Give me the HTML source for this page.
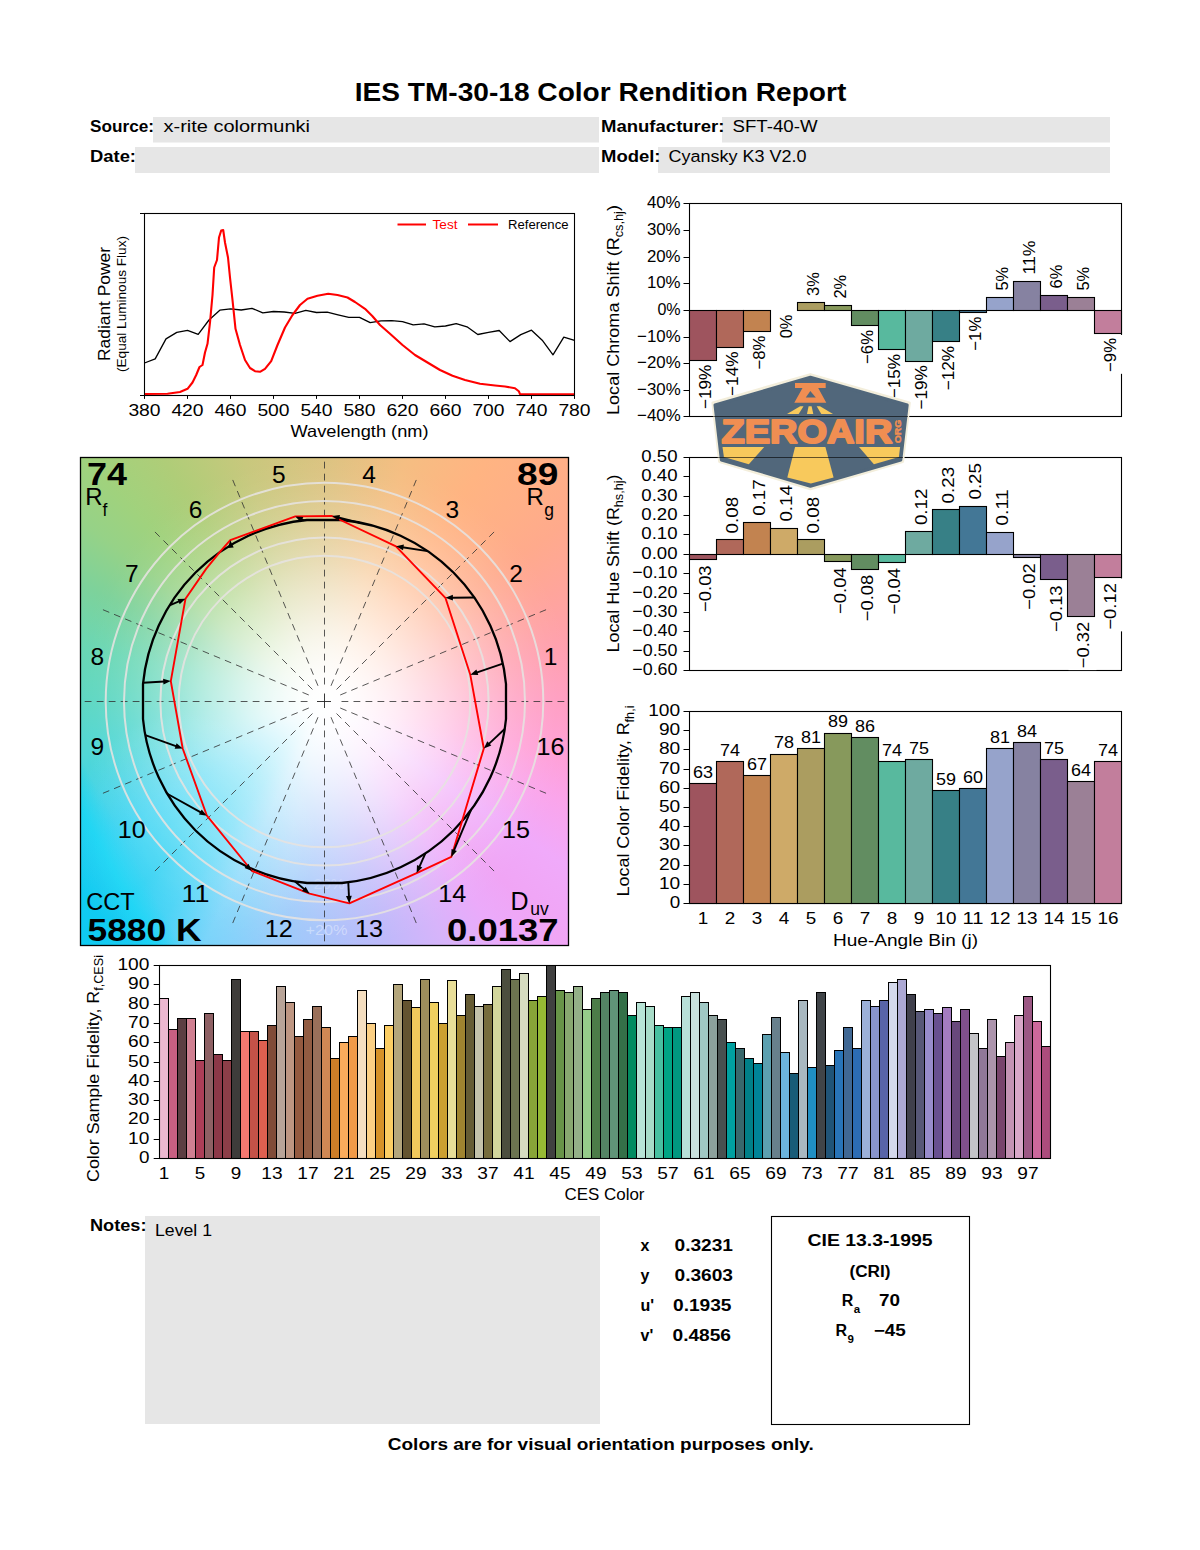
<!DOCTYPE html>
<html><head><meta charset="utf-8"><title>IES TM-30-18 Color Rendition Report</title>
<style>
html,body{margin:0;padding:0;background:#fff;}
#page{position:relative;width:1200px;height:1550px;overflow:hidden;background:#fff;font-family:'Liberation Sans', sans-serif;}
#cvgbg{position:absolute;left:80.5px;top:457.5px;width:488.0px;height:488.0px;background:radial-gradient(circle 125px at 112px 376px, rgba(255,255,255,0.30), rgba(255,255,255,0.22) 40%, rgba(255,255,255,0)),linear-gradient(241.8deg, rgba(0,214,246,0) 86.5%, rgba(0,214,246,0.6) 90.2%, rgba(10,202,241,0.55) 93%, rgba(10,202,241,0.55) 100%),radial-gradient(circle at 50% 50%, rgba(255,255,255,1.000) 0.0px, rgba(255,255,255,0.993) 12.8px, rgba(255,255,255,0.972) 25.5px, rgba(255,255,255,0.939) 38.2px, rgba(255,255,255,0.896) 51.0px, rgba(255,255,255,0.844) 63.8px, rgba(255,255,255,0.784) 76.5px, rgba(255,255,255,0.718) 89.2px, rgba(255,255,255,0.648) 102.0px, rgba(255,255,255,0.575) 114.8px, rgba(255,255,255,0.500) 127.5px, rgba(255,255,255,0.425) 140.2px, rgba(255,255,255,0.352) 153.0px, rgba(255,255,255,0.282) 165.8px, rgba(255,255,255,0.216) 178.5px, rgba(255,255,255,0.156) 191.2px, rgba(255,255,255,0.104) 204.0px, rgba(255,255,255,0.061) 216.8px, rgba(255,255,255,0.028) 229.5px, rgba(255,255,255,0.007) 242.2px, rgba(255,255,255,0.000) 255.0px),conic-gradient(from 0deg at 50% 50%, rgb(220,195,129) 0.0deg, rgb(245,190,130) 18.4deg, rgb(255,180,130) 33.7deg, rgb(255,175,135) 45.0deg, rgb(255,170,140) 53.4deg, rgb(255,165,155) 64.2deg, rgb(255,160,175) 77.3deg, rgb(255,159,195) 90.0deg, rgb(255,160,215) 102.7deg, rgb(250,165,235) 112.8deg, rgb(240,170,250) 124.1deg, rgb(240,165,245) 135.0deg, rgb(235,170,250) 143.1deg, rgb(215,180,250) 153.4deg, rgb(190,185,250) 166.0deg, rgb(170,195,250) 180.0deg, rgb(150,205,250) 194.0deg, rgb(115,210,250) 206.6deg, rgb(50,206,245) 216.9deg, rgb(22,203,241) 225.0deg, rgb(24,204,241) 231.3deg, rgb(35,206,240) 238.5deg, rgb(60,210,230) 247.2deg, rgb(80,215,215) 257.3deg, rgb(94,215,195) 270.0deg, rgb(105,215,180) 282.7deg, rgb(125,210,155) 295.8deg, rgb(150,210,135) 306.6deg, rgb(160,210,125) 315.0deg, rgb(175,205,120) 326.3deg, rgb(200,200,125) 341.6deg, rgb(220,195,129) 360deg);}
svg{position:absolute;left:0;top:0;}
svg text{font-family:'Liberation Sans', sans-serif;}
</style></head><body>
<div id="page">
<div id="cvgbg"></div>
<svg width="1200" height="1550" viewBox="0 0 1200 1550">
<!-- header -->
<text x="600.5" y="101.0" font-size="26.6" text-anchor="middle" font-weight="bold" textLength="491.5" lengthAdjust="spacingAndGlyphs">IES TM-30-18 Color Rendition Report</text>
<rect x="153.00" y="117.00" width="446.00" height="25.50" fill="#e6e6e6"/>
<rect x="135.00" y="147.00" width="464.00" height="26.00" fill="#e6e6e6"/>
<rect x="722.00" y="117.00" width="388.00" height="25.50" fill="#e6e6e6"/>
<rect x="658.00" y="147.00" width="452.00" height="26.00" fill="#e6e6e6"/>
<text x="90.0" y="131.5" font-size="16.3" text-anchor="start" font-weight="bold" textLength="64.0" lengthAdjust="spacingAndGlyphs">Source:</text>
<text x="163.5" y="131.5" font-size="16.3" text-anchor="start" textLength="146.5" lengthAdjust="spacingAndGlyphs">x-rite colormunki</text>
<text x="90.0" y="161.5" font-size="16.3" text-anchor="start" font-weight="bold" textLength="46.0" lengthAdjust="spacingAndGlyphs">Date:</text>
<text x="601.0" y="131.5" font-size="16.3" text-anchor="start" font-weight="bold" textLength="123.5" lengthAdjust="spacingAndGlyphs">Manufacturer:</text>
<text x="732.5" y="131.5" font-size="16.3" text-anchor="start" textLength="85.0" lengthAdjust="spacingAndGlyphs">SFT-40-W</text>
<text x="601.0" y="161.5" font-size="16.3" text-anchor="start" font-weight="bold" textLength="59.5" lengthAdjust="spacingAndGlyphs">Model:</text>
<text x="668.5" y="161.5" font-size="16.3" text-anchor="start" textLength="138.0" lengthAdjust="spacingAndGlyphs">Cyansky K3 V2.0</text>
<!-- spectrum -->
<polyline points="144.5,363.0 155.2,358.9 166.0,338.9 176.8,332.4 187.5,330.4 198.2,334.3 209.0,320.0 219.8,310.2 230.5,308.8 241.2,310.0 252.0,308.3 262.8,312.9 273.5,311.5 284.2,312.0 295.0,313.3 305.8,310.4 316.5,312.5 327.2,312.2 338.0,314.9 348.8,317.4 359.5,317.4 370.2,322.7 381.0,320.8 391.8,320.6 402.5,321.7 413.2,324.9 424.0,323.9 434.8,326.8 445.5,326.0 456.2,323.6 467.0,326.8 477.8,334.5 488.5,332.4 499.2,330.5 510.0,341.6 520.8,334.6 531.5,330.2 542.2,340.2 553.0,354.8 563.8,337.2 574.5,340.3" fill="none" stroke="#000" stroke-width="1.3" stroke-linejoin="round"/>
<polyline points="144.5,394.0 167.5,393.8 180.0,392.0 187.5,388.8 192.5,382.5 196.2,375.0 199.5,367.0 202.5,365.0 205.0,352.5 207.5,343.8 210.0,322.5 212.5,295.0 214.2,267.5 217.0,260.0 219.0,237.5 221.2,230.5 223.2,230.0 225.0,242.5 228.0,257.5 230.0,277.5 232.5,300.0 235.5,328.8 240.0,345.0 245.0,360.0 250.0,368.0 255.0,371.2 260.0,371.8 265.0,368.8 271.2,361.2 277.5,345.0 285.0,327.5 292.5,315.0 300.0,305.0 307.5,298.8 317.5,295.8 328.2,293.8 337.5,295.0 347.5,297.5 355.0,302.0 365.0,308.8 372.5,316.2 380.0,325.0 390.0,333.8 402.5,345.0 415.0,355.0 427.5,362.5 440.0,370.0 452.5,375.8 465.0,380.0 480.0,383.8 495.0,385.5 505.0,386.5 515.0,388.2 518.8,391.2 520.0,394.2 574.5,394.2" fill="none" stroke="#f00" stroke-width="2.1" stroke-linejoin="round"/>
<rect x="144.50" y="213.50" width="430.00" height="182.00" fill="none" stroke="#000" stroke-width="1.1"/>
<line x1="144.50" y1="395.50" x2="144.50" y2="398.90" stroke="#000" stroke-width="1.0"/>
<text x="144.5" y="416.0" font-size="16.8" text-anchor="middle" textLength="32.2" lengthAdjust="spacingAndGlyphs">380</text>
<line x1="187.50" y1="395.50" x2="187.50" y2="398.90" stroke="#000" stroke-width="1.0"/>
<text x="187.5" y="416.0" font-size="16.8" text-anchor="middle" textLength="32.2" lengthAdjust="spacingAndGlyphs">420</text>
<line x1="230.50" y1="395.50" x2="230.50" y2="398.90" stroke="#000" stroke-width="1.0"/>
<text x="230.5" y="416.0" font-size="16.8" text-anchor="middle" textLength="32.2" lengthAdjust="spacingAndGlyphs">460</text>
<line x1="273.50" y1="395.50" x2="273.50" y2="398.90" stroke="#000" stroke-width="1.0"/>
<text x="273.5" y="416.0" font-size="16.8" text-anchor="middle" textLength="32.2" lengthAdjust="spacingAndGlyphs">500</text>
<line x1="316.50" y1="395.50" x2="316.50" y2="398.90" stroke="#000" stroke-width="1.0"/>
<text x="316.5" y="416.0" font-size="16.8" text-anchor="middle" textLength="32.2" lengthAdjust="spacingAndGlyphs">540</text>
<line x1="359.50" y1="395.50" x2="359.50" y2="398.90" stroke="#000" stroke-width="1.0"/>
<text x="359.5" y="416.0" font-size="16.8" text-anchor="middle" textLength="32.2" lengthAdjust="spacingAndGlyphs">580</text>
<line x1="402.50" y1="395.50" x2="402.50" y2="398.90" stroke="#000" stroke-width="1.0"/>
<text x="402.5" y="416.0" font-size="16.8" text-anchor="middle" textLength="32.2" lengthAdjust="spacingAndGlyphs">620</text>
<line x1="445.50" y1="395.50" x2="445.50" y2="398.90" stroke="#000" stroke-width="1.0"/>
<text x="445.5" y="416.0" font-size="16.8" text-anchor="middle" textLength="32.2" lengthAdjust="spacingAndGlyphs">660</text>
<line x1="488.50" y1="395.50" x2="488.50" y2="398.90" stroke="#000" stroke-width="1.0"/>
<text x="488.5" y="416.0" font-size="16.8" text-anchor="middle" textLength="32.2" lengthAdjust="spacingAndGlyphs">700</text>
<line x1="531.50" y1="395.50" x2="531.50" y2="398.90" stroke="#000" stroke-width="1.0"/>
<text x="531.5" y="416.0" font-size="16.8" text-anchor="middle" textLength="32.2" lengthAdjust="spacingAndGlyphs">740</text>
<line x1="574.50" y1="395.50" x2="574.50" y2="398.90" stroke="#000" stroke-width="1.0"/>
<text x="574.5" y="416.0" font-size="16.8" text-anchor="middle" textLength="32.2" lengthAdjust="spacingAndGlyphs">780</text>
<line x1="140.00" y1="213.50" x2="144.50" y2="213.50" stroke="#000" stroke-width="1.0"/>
<line x1="140.00" y1="395.50" x2="144.50" y2="395.50" stroke="#000" stroke-width="1.0"/>
<text x="359.5" y="437.0" font-size="16.5" text-anchor="middle" textLength="138.0" lengthAdjust="spacingAndGlyphs">Wavelength (nm)</text>
<text x="110.0" y="304.0" font-size="16.5" text-anchor="middle" textLength="114.0" lengthAdjust="spacingAndGlyphs" transform="rotate(-90 110.0 304.0)">Radiant Power</text>
<text x="126.0" y="304.0" font-size="12.5" text-anchor="middle" textLength="136.0" lengthAdjust="spacingAndGlyphs" transform="rotate(-90 126.0 304.0)">(Equal Luminous Flux)</text>
<line x1="397.50" y1="224.50" x2="426.00" y2="224.50" stroke="#f00" stroke-width="2.0"/>
<text x="432.5" y="229.0" font-size="12.5" text-anchor="start" textLength="25.0" lengthAdjust="spacingAndGlyphs" fill="#f00">Test</text>
<line x1="468.00" y1="224.50" x2="498.00" y2="224.50" stroke="#f00" stroke-width="2.0"/>
<text x="508.0" y="229.0" font-size="12.5" text-anchor="start" textLength="60.5" lengthAdjust="spacingAndGlyphs">Reference</text>
<!-- bin charts -->
<rect x="689.50" y="203.50" width="432.00" height="213.00" fill="none" stroke="#000" stroke-width="1.1"/>
<rect x="690.50" y="361.56" width="28.00" height="49.20" fill="#fff"/>
<rect x="717.50" y="348.51" width="28.00" height="49.20" fill="#fff"/>
<rect x="744.50" y="332.53" width="28.00" height="38.90" fill="#fff"/>
<rect x="771.50" y="311.50" width="28.00" height="28.60" fill="#fff"/>
<rect x="798.50" y="270.91" width="28.00" height="30.60" fill="#fff"/>
<rect x="825.50" y="273.57" width="28.00" height="30.60" fill="#fff"/>
<rect x="852.50" y="326.94" width="28.00" height="38.90" fill="#fff"/>
<rect x="879.50" y="350.90" width="28.00" height="49.20" fill="#fff"/>
<rect x="906.50" y="362.09" width="28.00" height="49.20" fill="#fff"/>
<rect x="933.50" y="342.92" width="28.00" height="49.20" fill="#fff"/>
<rect x="960.50" y="313.63" width="28.00" height="38.90" fill="#fff"/>
<rect x="987.50" y="265.59" width="28.00" height="30.60" fill="#fff"/>
<rect x="1014.50" y="239.31" width="28.00" height="40.90" fill="#fff"/>
<rect x="1041.50" y="263.46" width="28.00" height="30.60" fill="#fff"/>
<rect x="1068.50" y="265.59" width="28.00" height="30.60" fill="#fff"/>
<rect x="1095.50" y="334.93" width="28.00" height="38.90" fill="#fff"/>
<rect x="689.50" y="310.50" width="27.00" height="50.00" fill="#9e545e" stroke="#000" stroke-width="1.1"/>
<rect x="716.50" y="310.50" width="27.00" height="37.00" fill="#b0685a" stroke="#000" stroke-width="1.1"/>
<rect x="743.50" y="310.50" width="27.00" height="21.00" fill="#c28350" stroke="#000" stroke-width="1.1"/>
<rect x="797.50" y="302.50" width="27.00" height="8.00" fill="#ab9d60" stroke="#000" stroke-width="1.1"/>
<rect x="824.50" y="305.50" width="27.00" height="5.00" fill="#87995c" stroke="#000" stroke-width="1.1"/>
<rect x="851.50" y="310.50" width="27.00" height="15.00" fill="#628d61" stroke="#000" stroke-width="1.1"/>
<rect x="878.50" y="310.50" width="27.00" height="39.00" fill="#58b99e" stroke="#000" stroke-width="1.1"/>
<rect x="905.50" y="310.50" width="27.00" height="51.00" fill="#6eaaa0" stroke="#000" stroke-width="1.1"/>
<rect x="932.50" y="310.50" width="27.00" height="31.00" fill="#378086" stroke="#000" stroke-width="1.1"/>
<rect x="959.50" y="310.50" width="27.00" height="2.00" fill="#437796" stroke="#000" stroke-width="1.1"/>
<rect x="986.50" y="297.50" width="27.00" height="13.00" fill="#96a3cb" stroke="#000" stroke-width="1.1"/>
<rect x="1013.50" y="281.50" width="27.00" height="29.00" fill="#8682a1" stroke="#000" stroke-width="1.1"/>
<rect x="1040.50" y="295.50" width="27.00" height="15.00" fill="#7a5e8c" stroke="#000" stroke-width="1.1"/>
<rect x="1067.50" y="297.50" width="27.00" height="13.00" fill="#9b8096" stroke="#000" stroke-width="1.1"/>
<rect x="1094.50" y="310.50" width="27.00" height="23.00" fill="#c27e9c" stroke="#000" stroke-width="1.1"/>
<text x="711.2" y="409.0" font-size="16.8" textLength="44.4" lengthAdjust="spacingAndGlyphs" transform="rotate(-90 711.2 409.0)">−19%</text>
<text x="738.2" y="395.9" font-size="16.8" textLength="44.4" lengthAdjust="spacingAndGlyphs" transform="rotate(-90 738.2 395.9)">−14%</text>
<text x="765.2" y="369.6" font-size="16.8" textLength="34.1" lengthAdjust="spacingAndGlyphs" transform="rotate(-90 765.2 369.6)">−8%</text>
<text x="792.2" y="338.3" font-size="16.8" textLength="23.8" lengthAdjust="spacingAndGlyphs" transform="rotate(-90 792.2 338.3)">0%</text>
<text x="819.2" y="295.9" font-size="16.8" textLength="23.8" lengthAdjust="spacingAndGlyphs" transform="rotate(-90 819.2 295.9)">3%</text>
<text x="846.2" y="298.6" font-size="16.8" textLength="23.8" lengthAdjust="spacingAndGlyphs" transform="rotate(-90 846.2 298.6)">2%</text>
<text x="873.2" y="364.0" font-size="16.8" textLength="34.1" lengthAdjust="spacingAndGlyphs" transform="rotate(-90 873.2 364.0)">−6%</text>
<text x="900.2" y="398.3" font-size="16.8" textLength="44.4" lengthAdjust="spacingAndGlyphs" transform="rotate(-90 900.2 398.3)">−15%</text>
<text x="927.2" y="409.5" font-size="16.8" textLength="44.4" lengthAdjust="spacingAndGlyphs" transform="rotate(-90 927.2 409.5)">−19%</text>
<text x="954.2" y="390.3" font-size="16.8" textLength="44.4" lengthAdjust="spacingAndGlyphs" transform="rotate(-90 954.2 390.3)">−12%</text>
<text x="981.2" y="350.7" font-size="16.8" textLength="34.1" lengthAdjust="spacingAndGlyphs" transform="rotate(-90 981.2 350.7)">−1%</text>
<text x="1008.2" y="290.6" font-size="16.8" textLength="23.8" lengthAdjust="spacingAndGlyphs" transform="rotate(-90 1008.2 290.6)">5%</text>
<text x="1035.2" y="274.6" font-size="16.8" textLength="34.1" lengthAdjust="spacingAndGlyphs" transform="rotate(-90 1035.2 274.6)">11%</text>
<text x="1062.2" y="288.5" font-size="16.8" textLength="23.8" lengthAdjust="spacingAndGlyphs" transform="rotate(-90 1062.2 288.5)">6%</text>
<text x="1089.2" y="290.6" font-size="16.8" textLength="23.8" lengthAdjust="spacingAndGlyphs" transform="rotate(-90 1089.2 290.6)">5%</text>
<text x="1116.2" y="372.0" font-size="16.8" textLength="34.1" lengthAdjust="spacingAndGlyphs" transform="rotate(-90 1116.2 372.0)">−9%</text>
<line x1="683.50" y1="203.50" x2="689.50" y2="203.50" stroke="#000" stroke-width="1.0"/>
<text x="680.6" y="207.9" font-size="16.8" text-anchor="end" textLength="33.7" lengthAdjust="spacingAndGlyphs">40%</text>
<line x1="683.50" y1="230.50" x2="689.50" y2="230.50" stroke="#000" stroke-width="1.0"/>
<text x="680.6" y="234.9" font-size="16.8" text-anchor="end" textLength="33.7" lengthAdjust="spacingAndGlyphs">30%</text>
<line x1="683.50" y1="257.50" x2="689.50" y2="257.50" stroke="#000" stroke-width="1.0"/>
<text x="680.6" y="261.9" font-size="16.8" text-anchor="end" textLength="33.7" lengthAdjust="spacingAndGlyphs">20%</text>
<line x1="683.50" y1="283.50" x2="689.50" y2="283.50" stroke="#000" stroke-width="1.0"/>
<text x="680.6" y="287.9" font-size="16.8" text-anchor="end" textLength="33.7" lengthAdjust="spacingAndGlyphs">10%</text>
<line x1="683.50" y1="310.50" x2="689.50" y2="310.50" stroke="#000" stroke-width="1.0"/>
<text x="680.6" y="314.9" font-size="16.8" text-anchor="end" textLength="23.2" lengthAdjust="spacingAndGlyphs">0%</text>
<line x1="683.50" y1="337.50" x2="689.50" y2="337.50" stroke="#000" stroke-width="1.0"/>
<text x="680.6" y="341.9" font-size="16.8" text-anchor="end" textLength="43.5" lengthAdjust="spacingAndGlyphs">−10%</text>
<line x1="683.50" y1="363.50" x2="689.50" y2="363.50" stroke="#000" stroke-width="1.0"/>
<text x="680.6" y="367.9" font-size="16.8" text-anchor="end" textLength="43.5" lengthAdjust="spacingAndGlyphs">−20%</text>
<line x1="683.50" y1="390.50" x2="689.50" y2="390.50" stroke="#000" stroke-width="1.0"/>
<text x="680.6" y="394.9" font-size="16.8" text-anchor="end" textLength="43.5" lengthAdjust="spacingAndGlyphs">−30%</text>
<line x1="683.50" y1="416.50" x2="689.50" y2="416.50" stroke="#000" stroke-width="1.0"/>
<text x="680.6" y="420.9" font-size="16.8" text-anchor="end" textLength="43.5" lengthAdjust="spacingAndGlyphs">−40%</text>
<rect x="689.50" y="457.50" width="432.00" height="213.00" fill="none" stroke="#000" stroke-width="1.1"/>
<rect x="690.50" y="560.75" width="28.00" height="53.00" fill="#fff"/>
<rect x="717.50" y="495.70" width="28.00" height="43.30" fill="#fff"/>
<rect x="744.50" y="478.07" width="28.00" height="43.30" fill="#fff"/>
<rect x="771.50" y="483.88" width="28.00" height="43.30" fill="#fff"/>
<rect x="798.50" y="495.70" width="28.00" height="43.30" fill="#fff"/>
<rect x="825.50" y="562.68" width="28.00" height="53.00" fill="#fff"/>
<rect x="852.50" y="570.04" width="28.00" height="53.00" fill="#fff"/>
<rect x="879.50" y="563.26" width="28.00" height="53.00" fill="#fff"/>
<rect x="906.50" y="487.37" width="28.00" height="43.30" fill="#fff"/>
<rect x="933.50" y="465.68" width="28.00" height="43.30" fill="#fff"/>
<rect x="960.50" y="461.81" width="28.00" height="43.30" fill="#fff"/>
<rect x="987.50" y="488.14" width="28.00" height="43.30" fill="#fff"/>
<rect x="1014.50" y="558.62" width="28.00" height="53.00" fill="#fff"/>
<rect x="1041.50" y="580.69" width="28.00" height="53.00" fill="#fff"/>
<rect x="1068.50" y="617.09" width="28.00" height="53.00" fill="#fff"/>
<rect x="1095.50" y="578.37" width="28.00" height="53.00" fill="#fff"/>
<rect x="689.50" y="554.50" width="27.00" height="5.00" fill="#9e545e" stroke="#000" stroke-width="1.1"/>
<rect x="716.50" y="539.50" width="27.00" height="15.00" fill="#b0685a" stroke="#000" stroke-width="1.1"/>
<rect x="743.50" y="522.50" width="27.00" height="32.00" fill="#c28350" stroke="#000" stroke-width="1.1"/>
<rect x="770.50" y="528.50" width="27.00" height="26.00" fill="#ceaa68" stroke="#000" stroke-width="1.1"/>
<rect x="797.50" y="539.50" width="27.00" height="15.00" fill="#ab9d60" stroke="#000" stroke-width="1.1"/>
<rect x="824.50" y="554.50" width="27.00" height="7.00" fill="#87995c" stroke="#000" stroke-width="1.1"/>
<rect x="851.50" y="554.50" width="27.00" height="15.00" fill="#628d61" stroke="#000" stroke-width="1.1"/>
<rect x="878.50" y="554.50" width="27.00" height="8.00" fill="#58b99e" stroke="#000" stroke-width="1.1"/>
<rect x="905.50" y="531.50" width="27.00" height="23.00" fill="#6eaaa0" stroke="#000" stroke-width="1.1"/>
<rect x="932.50" y="509.50" width="27.00" height="45.00" fill="#378086" stroke="#000" stroke-width="1.1"/>
<rect x="959.50" y="506.50" width="27.00" height="48.00" fill="#437796" stroke="#000" stroke-width="1.1"/>
<rect x="986.50" y="532.50" width="27.00" height="22.00" fill="#96a3cb" stroke="#000" stroke-width="1.1"/>
<rect x="1013.50" y="554.50" width="27.00" height="3.00" fill="#8682a1" stroke="#000" stroke-width="1.1"/>
<rect x="1040.50" y="554.50" width="27.00" height="25.00" fill="#7a5e8c" stroke="#000" stroke-width="1.1"/>
<rect x="1067.50" y="554.50" width="27.00" height="62.00" fill="#9b8096" stroke="#000" stroke-width="1.1"/>
<rect x="1094.50" y="554.50" width="27.00" height="23.00" fill="#c27e9c" stroke="#000" stroke-width="1.1"/>
<text x="711.2" y="611.9" font-size="16.8" textLength="46.5" lengthAdjust="spacingAndGlyphs" transform="rotate(-90 711.2 611.9)">−0.03</text>
<text x="738.2" y="533.4" font-size="16.8" textLength="36.5" lengthAdjust="spacingAndGlyphs" transform="rotate(-90 738.2 533.4)">0.08</text>
<text x="765.2" y="515.8" font-size="16.8" textLength="36.5" lengthAdjust="spacingAndGlyphs" transform="rotate(-90 765.2 515.8)">0.17</text>
<text x="792.2" y="521.6" font-size="16.8" textLength="36.5" lengthAdjust="spacingAndGlyphs" transform="rotate(-90 792.2 521.6)">0.14</text>
<text x="819.2" y="533.4" font-size="16.8" textLength="36.5" lengthAdjust="spacingAndGlyphs" transform="rotate(-90 819.2 533.4)">0.08</text>
<text x="846.2" y="613.9" font-size="16.8" textLength="46.5" lengthAdjust="spacingAndGlyphs" transform="rotate(-90 846.2 613.9)">−0.04</text>
<text x="873.2" y="621.2" font-size="16.8" textLength="46.5" lengthAdjust="spacingAndGlyphs" transform="rotate(-90 873.2 621.2)">−0.08</text>
<text x="900.2" y="614.5" font-size="16.8" textLength="46.5" lengthAdjust="spacingAndGlyphs" transform="rotate(-90 900.2 614.5)">−0.04</text>
<text x="927.2" y="525.1" font-size="16.8" textLength="36.5" lengthAdjust="spacingAndGlyphs" transform="rotate(-90 927.2 525.1)">0.12</text>
<text x="954.2" y="503.4" font-size="16.8" textLength="36.5" lengthAdjust="spacingAndGlyphs" transform="rotate(-90 954.2 503.4)">0.23</text>
<text x="981.2" y="499.5" font-size="16.8" textLength="36.5" lengthAdjust="spacingAndGlyphs" transform="rotate(-90 981.2 499.5)">0.25</text>
<text x="1008.2" y="525.8" font-size="16.8" textLength="36.5" lengthAdjust="spacingAndGlyphs" transform="rotate(-90 1008.2 525.8)">0.11</text>
<text x="1035.2" y="609.8" font-size="16.8" textLength="46.5" lengthAdjust="spacingAndGlyphs" transform="rotate(-90 1035.2 609.8)">−0.02</text>
<text x="1062.2" y="631.9" font-size="16.8" textLength="46.5" lengthAdjust="spacingAndGlyphs" transform="rotate(-90 1062.2 631.9)">−0.13</text>
<text x="1089.2" y="668.3" font-size="16.8" textLength="46.5" lengthAdjust="spacingAndGlyphs" transform="rotate(-90 1089.2 668.3)">−0.32</text>
<text x="1116.2" y="629.6" font-size="16.8" textLength="46.5" lengthAdjust="spacingAndGlyphs" transform="rotate(-90 1116.2 629.6)">−0.12</text>
<line x1="683.50" y1="457.50" x2="689.50" y2="457.50" stroke="#000" stroke-width="1.0"/>
<text x="677.5" y="461.9" font-size="16.8" text-anchor="end" textLength="36.2" lengthAdjust="spacingAndGlyphs">0.50</text>
<line x1="683.50" y1="476.50" x2="689.50" y2="476.50" stroke="#000" stroke-width="1.0"/>
<text x="677.5" y="480.9" font-size="16.8" text-anchor="end" textLength="36.2" lengthAdjust="spacingAndGlyphs">0.40</text>
<line x1="683.50" y1="496.50" x2="689.50" y2="496.50" stroke="#000" stroke-width="1.0"/>
<text x="677.5" y="500.9" font-size="16.8" text-anchor="end" textLength="36.2" lengthAdjust="spacingAndGlyphs">0.30</text>
<line x1="683.50" y1="515.50" x2="689.50" y2="515.50" stroke="#000" stroke-width="1.0"/>
<text x="677.5" y="519.9" font-size="16.8" text-anchor="end" textLength="36.2" lengthAdjust="spacingAndGlyphs">0.20</text>
<line x1="683.50" y1="534.50" x2="689.50" y2="534.50" stroke="#000" stroke-width="1.0"/>
<text x="677.5" y="538.9" font-size="16.8" text-anchor="end" textLength="36.2" lengthAdjust="spacingAndGlyphs">0.10</text>
<line x1="683.50" y1="554.50" x2="689.50" y2="554.50" stroke="#000" stroke-width="1.0"/>
<text x="677.5" y="558.9" font-size="16.8" text-anchor="end" textLength="36.2" lengthAdjust="spacingAndGlyphs">0.00</text>
<line x1="683.50" y1="573.50" x2="689.50" y2="573.50" stroke="#000" stroke-width="1.0"/>
<text x="677.5" y="577.9" font-size="16.8" text-anchor="end" textLength="45.2" lengthAdjust="spacingAndGlyphs">−0.10</text>
<line x1="683.50" y1="593.50" x2="689.50" y2="593.50" stroke="#000" stroke-width="1.0"/>
<text x="677.5" y="597.9" font-size="16.8" text-anchor="end" textLength="45.2" lengthAdjust="spacingAndGlyphs">−0.20</text>
<line x1="683.50" y1="612.50" x2="689.50" y2="612.50" stroke="#000" stroke-width="1.0"/>
<text x="677.5" y="616.9" font-size="16.8" text-anchor="end" textLength="45.2" lengthAdjust="spacingAndGlyphs">−0.30</text>
<line x1="683.50" y1="631.50" x2="689.50" y2="631.50" stroke="#000" stroke-width="1.0"/>
<text x="677.5" y="635.9" font-size="16.8" text-anchor="end" textLength="45.2" lengthAdjust="spacingAndGlyphs">−0.40</text>
<line x1="683.50" y1="651.50" x2="689.50" y2="651.50" stroke="#000" stroke-width="1.0"/>
<text x="677.5" y="655.9" font-size="16.8" text-anchor="end" textLength="45.2" lengthAdjust="spacingAndGlyphs">−0.50</text>
<line x1="683.50" y1="670.50" x2="689.50" y2="670.50" stroke="#000" stroke-width="1.0"/>
<text x="677.5" y="674.9" font-size="16.8" text-anchor="end" textLength="45.2" lengthAdjust="spacingAndGlyphs">−0.60</text>
<rect x="689.50" y="711.50" width="432.00" height="192.00" fill="none" stroke="#000" stroke-width="1.1"/>
<rect x="689.50" y="783.50" width="27.00" height="120.00" fill="#9e545e" stroke="#000" stroke-width="1.1"/>
<text x="703.0" y="777.6" font-size="16.8" text-anchor="middle" textLength="20.0" lengthAdjust="spacingAndGlyphs">63</text>
<text x="703.0" y="924.3" font-size="16.8" text-anchor="middle" textLength="10.5" lengthAdjust="spacingAndGlyphs">1</text>
<rect x="716.50" y="761.50" width="27.00" height="142.00" fill="#b0685a" stroke="#000" stroke-width="1.1"/>
<text x="730.0" y="755.7" font-size="16.8" text-anchor="middle" textLength="20.0" lengthAdjust="spacingAndGlyphs">74</text>
<text x="730.0" y="924.3" font-size="16.8" text-anchor="middle" textLength="10.5" lengthAdjust="spacingAndGlyphs">2</text>
<rect x="743.50" y="775.50" width="27.00" height="128.00" fill="#c28350" stroke="#000" stroke-width="1.1"/>
<text x="757.0" y="769.7" font-size="16.8" text-anchor="middle" textLength="20.0" lengthAdjust="spacingAndGlyphs">67</text>
<text x="757.0" y="924.3" font-size="16.8" text-anchor="middle" textLength="10.5" lengthAdjust="spacingAndGlyphs">3</text>
<rect x="770.50" y="754.50" width="27.00" height="149.00" fill="#ceaa68" stroke="#000" stroke-width="1.1"/>
<text x="784.0" y="748.4" font-size="16.8" text-anchor="middle" textLength="20.0" lengthAdjust="spacingAndGlyphs">78</text>
<text x="784.0" y="924.3" font-size="16.8" text-anchor="middle" textLength="10.5" lengthAdjust="spacingAndGlyphs">4</text>
<rect x="797.50" y="748.50" width="27.00" height="155.00" fill="#ab9d60" stroke="#000" stroke-width="1.1"/>
<text x="811.0" y="742.7" font-size="16.8" text-anchor="middle" textLength="20.0" lengthAdjust="spacingAndGlyphs">81</text>
<text x="811.0" y="924.3" font-size="16.8" text-anchor="middle" textLength="10.5" lengthAdjust="spacingAndGlyphs">5</text>
<rect x="824.50" y="733.50" width="27.00" height="170.00" fill="#87995c" stroke="#000" stroke-width="1.1"/>
<text x="838.0" y="727.3" font-size="16.8" text-anchor="middle" textLength="20.0" lengthAdjust="spacingAndGlyphs">89</text>
<text x="838.0" y="924.3" font-size="16.8" text-anchor="middle" textLength="10.5" lengthAdjust="spacingAndGlyphs">6</text>
<rect x="851.50" y="737.50" width="27.00" height="166.00" fill="#628d61" stroke="#000" stroke-width="1.1"/>
<text x="865.0" y="732.3" font-size="16.8" text-anchor="middle" textLength="20.0" lengthAdjust="spacingAndGlyphs">86</text>
<text x="865.0" y="924.3" font-size="16.8" text-anchor="middle" textLength="10.5" lengthAdjust="spacingAndGlyphs">7</text>
<rect x="878.50" y="761.50" width="27.00" height="142.00" fill="#58b99e" stroke="#000" stroke-width="1.1"/>
<text x="892.0" y="755.7" font-size="16.8" text-anchor="middle" textLength="20.0" lengthAdjust="spacingAndGlyphs">74</text>
<text x="892.0" y="924.3" font-size="16.8" text-anchor="middle" textLength="10.5" lengthAdjust="spacingAndGlyphs">8</text>
<rect x="905.50" y="759.50" width="27.00" height="144.00" fill="#6eaaa0" stroke="#000" stroke-width="1.1"/>
<text x="919.0" y="753.8" font-size="16.8" text-anchor="middle" textLength="20.0" lengthAdjust="spacingAndGlyphs">75</text>
<text x="919.0" y="924.3" font-size="16.8" text-anchor="middle" textLength="10.5" lengthAdjust="spacingAndGlyphs">9</text>
<rect x="932.50" y="790.50" width="27.00" height="113.00" fill="#378086" stroke="#000" stroke-width="1.1"/>
<text x="946.0" y="784.9" font-size="16.8" text-anchor="middle" textLength="20.0" lengthAdjust="spacingAndGlyphs">59</text>
<text x="946.0" y="924.3" font-size="16.8" text-anchor="middle" textLength="21.0" lengthAdjust="spacingAndGlyphs">10</text>
<rect x="959.50" y="788.50" width="27.00" height="115.00" fill="#437796" stroke="#000" stroke-width="1.1"/>
<text x="973.0" y="782.6" font-size="16.8" text-anchor="middle" textLength="20.0" lengthAdjust="spacingAndGlyphs">60</text>
<text x="973.0" y="924.3" font-size="16.8" text-anchor="middle" textLength="21.0" lengthAdjust="spacingAndGlyphs">11</text>
<rect x="986.50" y="748.50" width="27.00" height="155.00" fill="#96a3cb" stroke="#000" stroke-width="1.1"/>
<text x="1000.0" y="742.7" font-size="16.8" text-anchor="middle" textLength="20.0" lengthAdjust="spacingAndGlyphs">81</text>
<text x="1000.0" y="924.3" font-size="16.8" text-anchor="middle" textLength="21.0" lengthAdjust="spacingAndGlyphs">12</text>
<rect x="1013.50" y="742.50" width="27.00" height="161.00" fill="#8682a1" stroke="#000" stroke-width="1.1"/>
<text x="1027.0" y="736.5" font-size="16.8" text-anchor="middle" textLength="20.0" lengthAdjust="spacingAndGlyphs">84</text>
<text x="1027.0" y="924.3" font-size="16.8" text-anchor="middle" textLength="21.0" lengthAdjust="spacingAndGlyphs">13</text>
<rect x="1040.50" y="759.50" width="27.00" height="144.00" fill="#7a5e8c" stroke="#000" stroke-width="1.1"/>
<text x="1054.0" y="753.8" font-size="16.8" text-anchor="middle" textLength="20.0" lengthAdjust="spacingAndGlyphs">75</text>
<text x="1054.0" y="924.3" font-size="16.8" text-anchor="middle" textLength="21.0" lengthAdjust="spacingAndGlyphs">14</text>
<rect x="1067.50" y="781.50" width="27.00" height="122.00" fill="#9b8096" stroke="#000" stroke-width="1.1"/>
<text x="1081.0" y="775.5" font-size="16.8" text-anchor="middle" textLength="20.0" lengthAdjust="spacingAndGlyphs">64</text>
<text x="1081.0" y="924.3" font-size="16.8" text-anchor="middle" textLength="21.0" lengthAdjust="spacingAndGlyphs">15</text>
<rect x="1094.50" y="761.50" width="27.00" height="142.00" fill="#c27e9c" stroke="#000" stroke-width="1.1"/>
<text x="1108.0" y="755.7" font-size="16.8" text-anchor="middle" textLength="20.0" lengthAdjust="spacingAndGlyphs">74</text>
<text x="1108.0" y="924.3" font-size="16.8" text-anchor="middle" textLength="21.0" lengthAdjust="spacingAndGlyphs">16</text>
<line x1="683.50" y1="711.50" x2="689.50" y2="711.50" stroke="#000" stroke-width="1.0"/>
<text x="680.2" y="715.9" font-size="16.8" text-anchor="end" textLength="32.0" lengthAdjust="spacingAndGlyphs">100</text>
<line x1="683.50" y1="730.50" x2="689.50" y2="730.50" stroke="#000" stroke-width="1.0"/>
<text x="680.2" y="734.9" font-size="16.8" text-anchor="end" textLength="21.3" lengthAdjust="spacingAndGlyphs">90</text>
<line x1="683.50" y1="749.50" x2="689.50" y2="749.50" stroke="#000" stroke-width="1.0"/>
<text x="680.2" y="753.9" font-size="16.8" text-anchor="end" textLength="21.3" lengthAdjust="spacingAndGlyphs">80</text>
<line x1="683.50" y1="769.50" x2="689.50" y2="769.50" stroke="#000" stroke-width="1.0"/>
<text x="680.2" y="773.9" font-size="16.8" text-anchor="end" textLength="21.3" lengthAdjust="spacingAndGlyphs">70</text>
<line x1="683.50" y1="788.50" x2="689.50" y2="788.50" stroke="#000" stroke-width="1.0"/>
<text x="680.2" y="792.9" font-size="16.8" text-anchor="end" textLength="21.3" lengthAdjust="spacingAndGlyphs">60</text>
<line x1="683.50" y1="807.50" x2="689.50" y2="807.50" stroke="#000" stroke-width="1.0"/>
<text x="680.2" y="811.9" font-size="16.8" text-anchor="end" textLength="21.3" lengthAdjust="spacingAndGlyphs">50</text>
<line x1="683.50" y1="826.50" x2="689.50" y2="826.50" stroke="#000" stroke-width="1.0"/>
<text x="680.2" y="830.9" font-size="16.8" text-anchor="end" textLength="21.3" lengthAdjust="spacingAndGlyphs">40</text>
<line x1="683.50" y1="845.50" x2="689.50" y2="845.50" stroke="#000" stroke-width="1.0"/>
<text x="680.2" y="849.9" font-size="16.8" text-anchor="end" textLength="21.3" lengthAdjust="spacingAndGlyphs">30</text>
<line x1="683.50" y1="865.50" x2="689.50" y2="865.50" stroke="#000" stroke-width="1.0"/>
<text x="680.2" y="869.9" font-size="16.8" text-anchor="end" textLength="21.3" lengthAdjust="spacingAndGlyphs">20</text>
<line x1="683.50" y1="884.50" x2="689.50" y2="884.50" stroke="#000" stroke-width="1.0"/>
<text x="680.2" y="888.9" font-size="16.8" text-anchor="end" textLength="21.3" lengthAdjust="spacingAndGlyphs">10</text>
<line x1="683.50" y1="903.50" x2="689.50" y2="903.50" stroke="#000" stroke-width="1.0"/>
<text x="680.2" y="907.9" font-size="16.8" text-anchor="end" textLength="10.5" lengthAdjust="spacingAndGlyphs">0</text>
<text x="905.5" y="946.0" font-size="16.5" text-anchor="middle" textLength="145.0" lengthAdjust="spacingAndGlyphs">Hue-Angle Bin (j)</text>
<text x="618.5" y="310.0" font-size="17" text-anchor="middle" textLength="210" lengthAdjust="spacingAndGlyphs" transform="rotate(-90 618.5 310.0)">Local Chroma Shift (R<tspan font-size="12" dy="4.5">cs,hj</tspan><tspan dy="-4.5">)</tspan></text>
<text x="618.5" y="563.5" font-size="17" text-anchor="middle" textLength="178" lengthAdjust="spacingAndGlyphs" transform="rotate(-90 618.5 563.5)">Local Hue Shift (R<tspan font-size="12" dy="4.5">hs,hj</tspan><tspan dy="-4.5">)</tspan></text>
<text x="629.3" y="801.0" font-size="17" text-anchor="middle" textLength="191" lengthAdjust="spacingAndGlyphs" transform="rotate(-90 629.3 801.0)">Local Color Fidelity, R<tspan font-size="12" dy="4.5">fh,i</tspan><tspan dy="-4.5"></tspan></text>
<!-- CVG -->
<line x1="341.50" y1="701.50" x2="568.50" y2="701.50" stroke="#2e2e2e" stroke-width="0.8" stroke-dasharray="6.8 5.2"/>
<line x1="340.21" y1="694.99" x2="546.23" y2="609.66" stroke="#2e2e2e" stroke-width="0.8" stroke-dasharray="6.8 5.2"/>
<line x1="336.52" y1="689.48" x2="494.21" y2="531.79" stroke="#2e2e2e" stroke-width="0.8" stroke-dasharray="6.8 5.2"/>
<line x1="331.01" y1="685.79" x2="416.34" y2="479.77" stroke="#2e2e2e" stroke-width="0.8" stroke-dasharray="6.8 5.2"/>
<line x1="324.50" y1="684.50" x2="324.50" y2="457.50" stroke="#2e2e2e" stroke-width="0.8" stroke-dasharray="6.8 5.2"/>
<line x1="317.99" y1="685.79" x2="232.66" y2="479.77" stroke="#2e2e2e" stroke-width="0.8" stroke-dasharray="6.8 5.2"/>
<line x1="312.48" y1="689.48" x2="154.79" y2="531.79" stroke="#2e2e2e" stroke-width="0.8" stroke-dasharray="6.8 5.2"/>
<line x1="308.79" y1="694.99" x2="102.77" y2="609.66" stroke="#2e2e2e" stroke-width="0.8" stroke-dasharray="6.8 5.2"/>
<line x1="307.50" y1="701.50" x2="80.50" y2="701.50" stroke="#2e2e2e" stroke-width="0.8" stroke-dasharray="6.8 5.2"/>
<line x1="308.79" y1="708.01" x2="102.77" y2="793.34" stroke="#2e2e2e" stroke-width="0.8" stroke-dasharray="6.8 5.2"/>
<line x1="312.48" y1="713.52" x2="154.79" y2="871.21" stroke="#2e2e2e" stroke-width="0.8" stroke-dasharray="6.8 5.2"/>
<line x1="317.99" y1="717.21" x2="232.66" y2="923.23" stroke="#2e2e2e" stroke-width="0.8" stroke-dasharray="6.8 5.2"/>
<line x1="324.50" y1="718.50" x2="324.50" y2="945.50" stroke="#2e2e2e" stroke-width="0.8" stroke-dasharray="6.8 5.2"/>
<line x1="331.01" y1="717.21" x2="416.34" y2="923.23" stroke="#2e2e2e" stroke-width="0.8" stroke-dasharray="6.8 5.2"/>
<line x1="336.52" y1="713.52" x2="494.21" y2="871.21" stroke="#2e2e2e" stroke-width="0.8" stroke-dasharray="6.8 5.2"/>
<line x1="340.21" y1="708.01" x2="546.23" y2="793.34" stroke="#2e2e2e" stroke-width="0.8" stroke-dasharray="6.8 5.2"/>
<line x1="317.00" y1="701.50" x2="331.00" y2="701.50" stroke="#222" stroke-width="0.9"/>
<line x1="324.50" y1="693.50" x2="324.50" y2="708.00" stroke="#222" stroke-width="0.9"/>
<circle cx="324.5" cy="701.5" r="145.8" fill="none" stroke="#e6e3e0" stroke-width="2.0" opacity="0.88"/>
<circle cx="324.5" cy="701.5" r="164.1" fill="none" stroke="#e6e3e0" stroke-width="2.0" opacity="0.88"/>
<circle cx="324.5" cy="701.5" r="200.5" fill="none" stroke="#e6e3e0" stroke-width="2.0" opacity="0.88"/>
<circle cx="324.5" cy="701.5" r="218.8" fill="none" stroke="#e6e3e0" stroke-width="2.0" opacity="0.88"/>
<text x="324.5" y="888.5" font-size="15" text-anchor="middle" textLength="40.0" lengthAdjust="spacingAndGlyphs" fill="rgba(255,255,255,0.22)">−20%</text>
<text x="326.5" y="934.5" font-size="15" text-anchor="middle" textLength="42.0" lengthAdjust="spacingAndGlyphs" fill="rgba(255,255,255,0.38)">+20%</text>
<path d="M506.0,684.0 L506.0,684.0 A182.3,182.3 0 0 0 342.0,520.0 L307.0,520.0 A182.3,182.3 0 0 0 143.0,684.0 L143.0,719.0 A182.3,182.3 0 0 0 307.0,883.0 L342.0,883.0 A182.3,182.3 0 0 0 506.0,719.0 Z" fill="none" stroke="#000" stroke-width="2.3" stroke-linejoin="round"/>
<polygon points="470.3,674.8 445.4,597.8 396.0,546.3 332.0,516.0 295.3,516.4 230.3,540.2 221.0,550.6 206.3,568.6 185.5,598.7 170.8,681.1 182.7,748.5 206.9,815.7 252.0,871.0 309.6,893.7 349.3,903.4 416.6,873.1 451.3,856.9 483.8,748.5" fill="none" stroke="#f00" stroke-width="1.9" stroke-linejoin="round"/>
<line x1="502.82" y1="663.60" x2="476.45" y2="672.68" stroke="#000" stroke-width="1.9"/>
<polygon points="470.3,674.8 476.4,669.6 478.3,675.1" fill="#000"/>
<line x1="474.20" y1="597.46" x2="451.90" y2="597.72" stroke="#000" stroke-width="1.9"/>
<polygon points="445.4,597.8 452.9,594.8 452.9,600.6" fill="#000"/>
<line x1="427.49" y1="551.08" x2="402.43" y2="547.28" stroke="#000" stroke-width="1.9"/>
<polygon points="396.0,546.3 403.9,544.6 403.0,550.3" fill="#000"/>
<line x1="359.28" y1="522.55" x2="338.32" y2="517.52" stroke="#000" stroke-width="1.9"/>
<polygon points="332.0,516.0 340.0,514.9 338.6,520.6" fill="#000"/>
<line x1="303.86" y1="520.37" x2="301.20" y2="519.14" stroke="#000" stroke-width="1.9"/>
<polygon points="295.3,516.4 303.3,516.9 300.9,522.2" fill="#000"/>
<polygon points="230.3,540.2 233.7,547.5 227.9,547.9" fill="#000"/>
<line x1="169.56" y1="605.44" x2="179.51" y2="601.23" stroke="#000" stroke-width="1.9"/>
<polygon points="185.5,598.7 179.7,604.3 177.5,598.9" fill="#000"/>
<line x1="143.17" y1="682.76" x2="164.31" y2="681.49" stroke="#000" stroke-width="1.9"/>
<polygon points="170.8,681.1 163.5,684.4 163.1,678.7" fill="#000"/>
<line x1="145.31" y1="735.03" x2="176.58" y2="746.30" stroke="#000" stroke-width="1.9"/>
<polygon points="182.7,748.5 174.7,748.7 176.6,743.2" fill="#000"/>
<line x1="167.26" y1="793.75" x2="201.21" y2="812.55" stroke="#000" stroke-width="1.9"/>
<polygon points="206.9,815.7 198.9,814.6 201.7,809.5" fill="#000"/>
<polygon points="252.0,871.0 244.6,868.0 248.5,863.7" fill="#000"/>
<line x1="294.73" y1="881.35" x2="304.60" y2="889.55" stroke="#000" stroke-width="1.9"/>
<polygon points="309.6,893.7 302.0,891.1 305.7,886.7" fill="#000"/>
<line x1="348.29" y1="882.24" x2="348.99" y2="896.91" stroke="#000" stroke-width="1.9"/>
<polygon points="349.3,903.4 346.0,896.0 351.8,895.8" fill="#000"/>
<line x1="425.38" y1="853.34" x2="419.24" y2="867.16" stroke="#000" stroke-width="1.9"/>
<polygon points="416.6,873.1 417.0,865.1 422.3,867.4" fill="#000"/>
<line x1="471.04" y1="809.94" x2="453.82" y2="850.91" stroke="#000" stroke-width="1.9"/>
<polygon points="451.3,856.9 451.5,848.9 456.9,851.1" fill="#000"/>
<line x1="504.70" y1="729.07" x2="488.56" y2="744.08" stroke="#000" stroke-width="1.9"/>
<polygon points="483.8,748.5 487.3,741.3 491.3,745.5" fill="#000"/>
<text x="550.5" y="664.8" font-size="24.5" text-anchor="middle">1</text>
<text x="516.0" y="581.6" font-size="24.5" text-anchor="middle">2</text>
<text x="452.2" y="517.8" font-size="24.5" text-anchor="middle">3</text>
<text x="369.0" y="483.3" font-size="24.5" text-anchor="middle">4</text>
<text x="278.8" y="483.3" font-size="24.5" text-anchor="middle">5</text>
<text x="195.6" y="517.8" font-size="24.5" text-anchor="middle">6</text>
<text x="131.8" y="581.6" font-size="24.5" text-anchor="middle">7</text>
<text x="97.3" y="664.8" font-size="24.5" text-anchor="middle">8</text>
<text x="97.3" y="755.0" font-size="24.5" text-anchor="middle">9</text>
<text x="131.8" y="838.2" font-size="24.5" text-anchor="middle" textLength="28.0" lengthAdjust="spacingAndGlyphs">10</text>
<text x="195.6" y="902.0" font-size="24.5" text-anchor="middle" textLength="28.0" lengthAdjust="spacingAndGlyphs">11</text>
<text x="278.8" y="936.5" font-size="24.5" text-anchor="middle" textLength="28.0" lengthAdjust="spacingAndGlyphs">12</text>
<text x="369.0" y="936.5" font-size="24.5" text-anchor="middle" textLength="28.0" lengthAdjust="spacingAndGlyphs">13</text>
<text x="452.2" y="902.0" font-size="24.5" text-anchor="middle" textLength="28.0" lengthAdjust="spacingAndGlyphs">14</text>
<text x="516.0" y="838.2" font-size="24.5" text-anchor="middle" textLength="28.0" lengthAdjust="spacingAndGlyphs">15</text>
<text x="550.5" y="755.0" font-size="24.5" text-anchor="middle" textLength="28.0" lengthAdjust="spacingAndGlyphs">16</text>
<text x="86.9" y="485.0" font-size="30.5" text-anchor="start" font-weight="bold" textLength="40.0" lengthAdjust="spacingAndGlyphs">74</text>
<text x="85.2" y="504.6" font-size="24">R<tspan font-size="17.5" dx="0" dy="11">f</tspan></text>
<text x="517.0" y="485.0" font-size="30.5" text-anchor="start" font-weight="bold" textLength="41.3" lengthAdjust="spacingAndGlyphs">89</text>
<text x="526.5" y="504.6" font-size="24">R<tspan font-size="17.5" dx="0.5" dy="11">g</tspan></text>
<text x="86.2" y="909.6" font-size="24.5" text-anchor="start" textLength="48.5" lengthAdjust="spacingAndGlyphs">CCT</text>
<text x="87.5" y="940.6" font-size="30.5" text-anchor="start" font-weight="bold" textLength="114.0" lengthAdjust="spacingAndGlyphs">5880 K</text>
<text x="510.6" y="909.6" font-size="25">D<tspan font-size="17.5" dx="1.5" dy="5">uv</tspan></text>
<text x="447.0" y="940.6" font-size="30.5" text-anchor="start" font-weight="bold" textLength="111.5" lengthAdjust="spacingAndGlyphs">0.0137</text>
<rect x="80.50" y="457.50" width="488.00" height="488.00" fill="none" stroke="#000" stroke-width="1.3"/>
<!-- CES chart -->
<rect x="159.50" y="998.50" width="9.00" height="160.00" fill="#ecb8d0" stroke="#000" stroke-width="1.0"/>
<rect x="168.50" y="1029.50" width="9.00" height="129.00" fill="#c86082" stroke="#000" stroke-width="1.0"/>
<rect x="177.50" y="1018.50" width="9.00" height="140.00" fill="#5c3e42" stroke="#000" stroke-width="1.0"/>
<rect x="186.50" y="1018.50" width="9.00" height="140.00" fill="#d08092" stroke="#000" stroke-width="1.0"/>
<rect x="195.50" y="1060.50" width="9.00" height="98.00" fill="#ac3e58" stroke="#000" stroke-width="1.0"/>
<rect x="204.50" y="1013.50" width="9.00" height="145.00" fill="#8e6064" stroke="#000" stroke-width="1.0"/>
<rect x="213.50" y="1054.50" width="9.00" height="104.00" fill="#8c3848" stroke="#000" stroke-width="1.0"/>
<rect x="222.50" y="1060.50" width="9.00" height="98.00" fill="#8c3e48" stroke="#000" stroke-width="1.0"/>
<rect x="231.50" y="979.50" width="9.00" height="179.00" fill="#3e3c3a" stroke="#000" stroke-width="1.0"/>
<rect x="240.50" y="1031.50" width="9.00" height="127.00" fill="#f47870" stroke="#000" stroke-width="1.0"/>
<rect x="249.50" y="1031.50" width="9.00" height="127.00" fill="#c45248" stroke="#000" stroke-width="1.0"/>
<rect x="258.50" y="1040.50" width="9.00" height="118.00" fill="#de6050" stroke="#000" stroke-width="1.0"/>
<rect x="267.50" y="1025.50" width="9.00" height="133.00" fill="#804c38" stroke="#000" stroke-width="1.0"/>
<rect x="276.50" y="986.50" width="9.00" height="172.00" fill="#b8a498" stroke="#000" stroke-width="1.0"/>
<rect x="285.50" y="1002.50" width="9.00" height="156.00" fill="#be9682" stroke="#000" stroke-width="1.0"/>
<rect x="294.50" y="1036.50" width="9.00" height="122.00" fill="#945a40" stroke="#000" stroke-width="1.0"/>
<rect x="303.50" y="1019.50" width="9.00" height="139.00" fill="#925c42" stroke="#000" stroke-width="1.0"/>
<rect x="312.50" y="1006.50" width="9.00" height="152.00" fill="#9a705a" stroke="#000" stroke-width="1.0"/>
<rect x="321.50" y="1027.50" width="9.00" height="131.00" fill="#d08854" stroke="#000" stroke-width="1.0"/>
<rect x="330.50" y="1058.50" width="9.00" height="100.00" fill="#ce7e28" stroke="#000" stroke-width="1.0"/>
<rect x="339.50" y="1042.50" width="9.00" height="116.00" fill="#faac5c" stroke="#000" stroke-width="1.0"/>
<rect x="348.50" y="1036.50" width="9.00" height="122.00" fill="#f09a48" stroke="#000" stroke-width="1.0"/>
<rect x="357.50" y="990.50" width="9.00" height="168.00" fill="#f4dec0" stroke="#000" stroke-width="1.0"/>
<rect x="366.50" y="1023.50" width="9.00" height="135.00" fill="#fcd084" stroke="#000" stroke-width="1.0"/>
<rect x="375.50" y="1048.50" width="9.00" height="110.00" fill="#d69228" stroke="#000" stroke-width="1.0"/>
<rect x="384.50" y="1025.50" width="9.00" height="133.00" fill="#fcce64" stroke="#000" stroke-width="1.0"/>
<rect x="393.50" y="984.50" width="9.00" height="174.00" fill="#b4a67c" stroke="#000" stroke-width="1.0"/>
<rect x="402.50" y="1000.50" width="9.00" height="158.00" fill="#645430" stroke="#000" stroke-width="1.0"/>
<rect x="411.50" y="1007.50" width="9.00" height="151.00" fill="#f0c85c" stroke="#000" stroke-width="1.0"/>
<rect x="420.50" y="979.50" width="9.00" height="179.00" fill="#9e8e5c" stroke="#000" stroke-width="1.0"/>
<rect x="429.50" y="1002.50" width="9.00" height="156.00" fill="#f0d060" stroke="#000" stroke-width="1.0"/>
<rect x="438.50" y="1023.50" width="9.00" height="135.00" fill="#cca030" stroke="#000" stroke-width="1.0"/>
<rect x="447.50" y="980.50" width="9.00" height="178.00" fill="#e8de98" stroke="#000" stroke-width="1.0"/>
<rect x="456.50" y="1015.50" width="9.00" height="143.00" fill="#a08430" stroke="#000" stroke-width="1.0"/>
<rect x="465.50" y="994.50" width="9.00" height="164.00" fill="#665c34" stroke="#000" stroke-width="1.0"/>
<rect x="474.50" y="1006.50" width="9.00" height="152.00" fill="#c4c2aa" stroke="#000" stroke-width="1.0"/>
<rect x="483.50" y="1004.50" width="9.00" height="154.00" fill="#766c3c" stroke="#000" stroke-width="1.0"/>
<rect x="492.50" y="986.50" width="9.00" height="172.00" fill="#d2d69c" stroke="#000" stroke-width="1.0"/>
<rect x="501.50" y="969.50" width="9.00" height="189.00" fill="#4c4e3e" stroke="#000" stroke-width="1.0"/>
<rect x="510.50" y="979.50" width="9.00" height="179.00" fill="#6c7450" stroke="#000" stroke-width="1.0"/>
<rect x="519.50" y="973.50" width="9.00" height="185.00" fill="#d6dcc0" stroke="#000" stroke-width="1.0"/>
<rect x="528.50" y="1000.50" width="9.00" height="158.00" fill="#88a438" stroke="#000" stroke-width="1.0"/>
<rect x="537.50" y="996.50" width="9.00" height="162.00" fill="#96ba34" stroke="#000" stroke-width="1.0"/>
<rect x="546.50" y="965.50" width="9.00" height="193.00" fill="#404040" stroke="#000" stroke-width="1.0"/>
<rect x="555.50" y="990.50" width="9.00" height="168.00" fill="#689448" stroke="#000" stroke-width="1.0"/>
<rect x="564.50" y="992.50" width="9.00" height="166.00" fill="#88a870" stroke="#000" stroke-width="1.0"/>
<rect x="573.50" y="986.50" width="9.00" height="172.00" fill="#94b088" stroke="#000" stroke-width="1.0"/>
<rect x="582.50" y="1009.50" width="9.00" height="149.00" fill="#96cc8a" stroke="#000" stroke-width="1.0"/>
<rect x="591.50" y="998.50" width="9.00" height="160.00" fill="#4c7c48" stroke="#000" stroke-width="1.0"/>
<rect x="600.50" y="992.50" width="9.00" height="166.00" fill="#548464" stroke="#000" stroke-width="1.0"/>
<rect x="609.50" y="990.50" width="9.00" height="168.00" fill="#609478" stroke="#000" stroke-width="1.0"/>
<rect x="618.50" y="992.50" width="9.00" height="166.00" fill="#347048" stroke="#000" stroke-width="1.0"/>
<rect x="627.50" y="1015.50" width="9.00" height="143.00" fill="#008c60" stroke="#000" stroke-width="1.0"/>
<rect x="636.50" y="1002.50" width="9.00" height="156.00" fill="#b8e4d6" stroke="#000" stroke-width="1.0"/>
<rect x="645.50" y="1006.50" width="9.00" height="152.00" fill="#a8dcc8" stroke="#000" stroke-width="1.0"/>
<rect x="654.50" y="1025.50" width="9.00" height="133.00" fill="#48c0a0" stroke="#000" stroke-width="1.0"/>
<rect x="663.50" y="1027.50" width="9.00" height="131.00" fill="#00a484" stroke="#000" stroke-width="1.0"/>
<rect x="672.50" y="1027.50" width="9.00" height="131.00" fill="#009880" stroke="#000" stroke-width="1.0"/>
<rect x="681.50" y="996.50" width="9.00" height="162.00" fill="#b8e0d8" stroke="#000" stroke-width="1.0"/>
<rect x="690.50" y="992.50" width="9.00" height="166.00" fill="#c8e0dc" stroke="#000" stroke-width="1.0"/>
<rect x="699.50" y="1002.50" width="9.00" height="156.00" fill="#a0c8c4" stroke="#000" stroke-width="1.0"/>
<rect x="708.50" y="1015.50" width="9.00" height="143.00" fill="#8ca09c" stroke="#000" stroke-width="1.0"/>
<rect x="717.50" y="1019.50" width="9.00" height="139.00" fill="#485050" stroke="#000" stroke-width="1.0"/>
<rect x="726.50" y="1042.50" width="9.00" height="116.00" fill="#00a0a0" stroke="#000" stroke-width="1.0"/>
<rect x="735.50" y="1048.50" width="9.00" height="110.00" fill="#38686c" stroke="#000" stroke-width="1.0"/>
<rect x="744.50" y="1058.50" width="9.00" height="100.00" fill="#008088" stroke="#000" stroke-width="1.0"/>
<rect x="753.50" y="1063.50" width="9.00" height="95.00" fill="#008498" stroke="#000" stroke-width="1.0"/>
<rect x="762.50" y="1034.50" width="9.00" height="124.00" fill="#5ca0b0" stroke="#000" stroke-width="1.0"/>
<rect x="771.50" y="1017.50" width="9.00" height="141.00" fill="#68808c" stroke="#000" stroke-width="1.0"/>
<rect x="780.50" y="1052.50" width="9.00" height="106.00" fill="#6cb4dc" stroke="#000" stroke-width="1.0"/>
<rect x="789.50" y="1073.50" width="9.00" height="85.00" fill="#185c78" stroke="#000" stroke-width="1.0"/>
<rect x="798.50" y="1000.50" width="9.00" height="158.00" fill="#a8b8c0" stroke="#000" stroke-width="1.0"/>
<rect x="807.50" y="1067.50" width="9.00" height="91.00" fill="#2090c4" stroke="#000" stroke-width="1.0"/>
<rect x="816.50" y="992.50" width="9.00" height="166.00" fill="#404448" stroke="#000" stroke-width="1.0"/>
<rect x="825.50" y="1065.50" width="9.00" height="93.00" fill="#205478" stroke="#000" stroke-width="1.0"/>
<rect x="834.50" y="1050.50" width="9.00" height="108.00" fill="#2874b8" stroke="#000" stroke-width="1.0"/>
<rect x="843.50" y="1027.50" width="9.00" height="131.00" fill="#406894" stroke="#000" stroke-width="1.0"/>
<rect x="852.50" y="1048.50" width="9.00" height="110.00" fill="#2c6cb4" stroke="#000" stroke-width="1.0"/>
<rect x="861.50" y="1000.50" width="9.00" height="158.00" fill="#9cb0d8" stroke="#000" stroke-width="1.0"/>
<rect x="870.50" y="1006.50" width="9.00" height="152.00" fill="#8894cc" stroke="#000" stroke-width="1.0"/>
<rect x="879.50" y="1000.50" width="9.00" height="158.00" fill="#5864a8" stroke="#000" stroke-width="1.0"/>
<rect x="888.50" y="982.50" width="9.00" height="176.00" fill="#d4d8ec" stroke="#000" stroke-width="1.0"/>
<rect x="897.50" y="979.50" width="9.00" height="179.00" fill="#aca8d4" stroke="#000" stroke-width="1.0"/>
<rect x="906.50" y="994.50" width="9.00" height="164.00" fill="#40404c" stroke="#000" stroke-width="1.0"/>
<rect x="915.50" y="1011.50" width="9.00" height="147.00" fill="#585878" stroke="#000" stroke-width="1.0"/>
<rect x="924.50" y="1009.50" width="9.00" height="149.00" fill="#988ccc" stroke="#000" stroke-width="1.0"/>
<rect x="933.50" y="1013.50" width="9.00" height="145.00" fill="#685090" stroke="#000" stroke-width="1.0"/>
<rect x="942.50" y="1007.50" width="9.00" height="151.00" fill="#a47cc0" stroke="#000" stroke-width="1.0"/>
<rect x="951.50" y="1021.50" width="9.00" height="137.00" fill="#68487c" stroke="#000" stroke-width="1.0"/>
<rect x="960.50" y="1009.50" width="9.00" height="149.00" fill="#80508c" stroke="#000" stroke-width="1.0"/>
<rect x="969.50" y="1033.50" width="9.00" height="125.00" fill="#c4c4c8" stroke="#000" stroke-width="1.0"/>
<rect x="978.50" y="1048.50" width="9.00" height="110.00" fill="#907898" stroke="#000" stroke-width="1.0"/>
<rect x="987.50" y="1019.50" width="9.00" height="139.00" fill="#ac94ac" stroke="#000" stroke-width="1.0"/>
<rect x="996.50" y="1056.50" width="9.00" height="102.00" fill="#78446c" stroke="#000" stroke-width="1.0"/>
<rect x="1005.50" y="1042.50" width="9.00" height="116.00" fill="#c494b4" stroke="#000" stroke-width="1.0"/>
<rect x="1014.50" y="1015.50" width="9.00" height="143.00" fill="#d8a8c8" stroke="#000" stroke-width="1.0"/>
<rect x="1023.50" y="996.50" width="9.00" height="162.00" fill="#9c5884" stroke="#000" stroke-width="1.0"/>
<rect x="1032.50" y="1021.50" width="9.00" height="137.00" fill="#cc689c" stroke="#000" stroke-width="1.0"/>
<rect x="1041.50" y="1046.50" width="9.00" height="112.00" fill="#ac4c7c" stroke="#000" stroke-width="1.0"/>
<rect x="159.50" y="965.50" width="891.00" height="193.00" fill="none" stroke="#000" stroke-width="1.1"/>
<line x1="153.70" y1="965.50" x2="159.50" y2="965.50" stroke="#000" stroke-width="1.0"/>
<text x="149.4" y="969.9" font-size="16.8" text-anchor="end" textLength="32.0" lengthAdjust="spacingAndGlyphs">100</text>
<line x1="153.70" y1="984.50" x2="159.50" y2="984.50" stroke="#000" stroke-width="1.0"/>
<text x="149.4" y="988.9" font-size="16.8" text-anchor="end" textLength="21.3" lengthAdjust="spacingAndGlyphs">90</text>
<line x1="153.70" y1="1004.50" x2="159.50" y2="1004.50" stroke="#000" stroke-width="1.0"/>
<text x="149.4" y="1008.9" font-size="16.8" text-anchor="end" textLength="21.3" lengthAdjust="spacingAndGlyphs">80</text>
<line x1="153.70" y1="1023.50" x2="159.50" y2="1023.50" stroke="#000" stroke-width="1.0"/>
<text x="149.4" y="1027.9" font-size="16.8" text-anchor="end" textLength="21.3" lengthAdjust="spacingAndGlyphs">70</text>
<line x1="153.70" y1="1042.50" x2="159.50" y2="1042.50" stroke="#000" stroke-width="1.0"/>
<text x="149.4" y="1046.9" font-size="16.8" text-anchor="end" textLength="21.3" lengthAdjust="spacingAndGlyphs">60</text>
<line x1="153.70" y1="1062.50" x2="159.50" y2="1062.50" stroke="#000" stroke-width="1.0"/>
<text x="149.4" y="1066.9" font-size="16.8" text-anchor="end" textLength="21.3" lengthAdjust="spacingAndGlyphs">50</text>
<line x1="153.70" y1="1081.50" x2="159.50" y2="1081.50" stroke="#000" stroke-width="1.0"/>
<text x="149.4" y="1085.9" font-size="16.8" text-anchor="end" textLength="21.3" lengthAdjust="spacingAndGlyphs">40</text>
<line x1="153.70" y1="1100.50" x2="159.50" y2="1100.50" stroke="#000" stroke-width="1.0"/>
<text x="149.4" y="1104.9" font-size="16.8" text-anchor="end" textLength="21.3" lengthAdjust="spacingAndGlyphs">30</text>
<line x1="153.70" y1="1119.50" x2="159.50" y2="1119.50" stroke="#000" stroke-width="1.0"/>
<text x="149.4" y="1123.9" font-size="16.8" text-anchor="end" textLength="21.3" lengthAdjust="spacingAndGlyphs">20</text>
<line x1="153.70" y1="1139.50" x2="159.50" y2="1139.50" stroke="#000" stroke-width="1.0"/>
<text x="149.4" y="1143.9" font-size="16.8" text-anchor="end" textLength="21.3" lengthAdjust="spacingAndGlyphs">10</text>
<line x1="153.70" y1="1158.50" x2="159.50" y2="1158.50" stroke="#000" stroke-width="1.0"/>
<text x="149.4" y="1162.9" font-size="16.8" text-anchor="end" textLength="10.5" lengthAdjust="spacingAndGlyphs">0</text>
<text x="164.0" y="1179.2" font-size="16.8" text-anchor="middle" textLength="10.5" lengthAdjust="spacingAndGlyphs">1</text>
<text x="200.0" y="1179.2" font-size="16.8" text-anchor="middle" textLength="10.5" lengthAdjust="spacingAndGlyphs">5</text>
<text x="236.0" y="1179.2" font-size="16.8" text-anchor="middle" textLength="10.5" lengthAdjust="spacingAndGlyphs">9</text>
<text x="272.0" y="1179.2" font-size="16.8" text-anchor="middle" textLength="21.3" lengthAdjust="spacingAndGlyphs">13</text>
<text x="308.0" y="1179.2" font-size="16.8" text-anchor="middle" textLength="21.3" lengthAdjust="spacingAndGlyphs">17</text>
<text x="344.0" y="1179.2" font-size="16.8" text-anchor="middle" textLength="21.3" lengthAdjust="spacingAndGlyphs">21</text>
<text x="380.0" y="1179.2" font-size="16.8" text-anchor="middle" textLength="21.3" lengthAdjust="spacingAndGlyphs">25</text>
<text x="416.0" y="1179.2" font-size="16.8" text-anchor="middle" textLength="21.3" lengthAdjust="spacingAndGlyphs">29</text>
<text x="452.0" y="1179.2" font-size="16.8" text-anchor="middle" textLength="21.3" lengthAdjust="spacingAndGlyphs">33</text>
<text x="488.0" y="1179.2" font-size="16.8" text-anchor="middle" textLength="21.3" lengthAdjust="spacingAndGlyphs">37</text>
<text x="524.0" y="1179.2" font-size="16.8" text-anchor="middle" textLength="21.3" lengthAdjust="spacingAndGlyphs">41</text>
<text x="560.0" y="1179.2" font-size="16.8" text-anchor="middle" textLength="21.3" lengthAdjust="spacingAndGlyphs">45</text>
<text x="596.0" y="1179.2" font-size="16.8" text-anchor="middle" textLength="21.3" lengthAdjust="spacingAndGlyphs">49</text>
<text x="632.0" y="1179.2" font-size="16.8" text-anchor="middle" textLength="21.3" lengthAdjust="spacingAndGlyphs">53</text>
<text x="668.0" y="1179.2" font-size="16.8" text-anchor="middle" textLength="21.3" lengthAdjust="spacingAndGlyphs">57</text>
<text x="704.0" y="1179.2" font-size="16.8" text-anchor="middle" textLength="21.3" lengthAdjust="spacingAndGlyphs">61</text>
<text x="740.0" y="1179.2" font-size="16.8" text-anchor="middle" textLength="21.3" lengthAdjust="spacingAndGlyphs">65</text>
<text x="776.0" y="1179.2" font-size="16.8" text-anchor="middle" textLength="21.3" lengthAdjust="spacingAndGlyphs">69</text>
<text x="812.0" y="1179.2" font-size="16.8" text-anchor="middle" textLength="21.3" lengthAdjust="spacingAndGlyphs">73</text>
<text x="848.0" y="1179.2" font-size="16.8" text-anchor="middle" textLength="21.3" lengthAdjust="spacingAndGlyphs">77</text>
<text x="884.0" y="1179.2" font-size="16.8" text-anchor="middle" textLength="21.3" lengthAdjust="spacingAndGlyphs">81</text>
<text x="920.0" y="1179.2" font-size="16.8" text-anchor="middle" textLength="21.3" lengthAdjust="spacingAndGlyphs">85</text>
<text x="956.0" y="1179.2" font-size="16.8" text-anchor="middle" textLength="21.3" lengthAdjust="spacingAndGlyphs">89</text>
<text x="992.0" y="1179.2" font-size="16.8" text-anchor="middle" textLength="21.3" lengthAdjust="spacingAndGlyphs">93</text>
<text x="1028.0" y="1179.2" font-size="16.8" text-anchor="middle" textLength="21.3" lengthAdjust="spacingAndGlyphs">97</text>
<text x="604.5" y="1200.0" font-size="16.5" text-anchor="middle" textLength="80.0" lengthAdjust="spacingAndGlyphs">CES Color</text>
<text x="98.5" y="1068.5" font-size="17" text-anchor="middle" textLength="227" lengthAdjust="spacingAndGlyphs" transform="rotate(-90 98.5 1068.5)">Color Sample Fidelity, R<tspan font-size="12" dy="4.5">f,CESi</tspan></text>
<!-- bottom -->
<rect x="145.00" y="1216.00" width="455.00" height="208.00" fill="#e6e6e6"/>
<text x="90.0" y="1231.0" font-size="16.3" text-anchor="start" font-weight="bold" textLength="56.5" lengthAdjust="spacingAndGlyphs">Notes:</text>
<text x="155.0" y="1236.0" font-size="16.3" text-anchor="start" textLength="57.0" lengthAdjust="spacingAndGlyphs">Level 1</text>
<text x="640.5" y="1251.0" font-size="16" text-anchor="start" font-weight="bold">x</text>
<text x="674.5" y="1251.0" font-size="16" text-anchor="start" font-weight="bold" textLength="58.5" lengthAdjust="spacingAndGlyphs">0.3231</text>
<text x="640.5" y="1281.0" font-size="16" text-anchor="start" font-weight="bold">y</text>
<text x="674.5" y="1281.0" font-size="16" text-anchor="start" font-weight="bold" textLength="58.5" lengthAdjust="spacingAndGlyphs">0.3603</text>
<text x="640.5" y="1311.0" font-size="16" text-anchor="start" font-weight="bold">u'</text>
<text x="673.0" y="1311.0" font-size="16" text-anchor="start" font-weight="bold" textLength="58.5" lengthAdjust="spacingAndGlyphs">0.1935</text>
<text x="640.5" y="1341.0" font-size="16" text-anchor="start" font-weight="bold">v'</text>
<text x="672.5" y="1341.0" font-size="16" text-anchor="start" font-weight="bold" textLength="58.5" lengthAdjust="spacingAndGlyphs">0.4856</text>
<rect x="771.50" y="1216.50" width="198.00" height="208.00" fill="none" stroke="#000" stroke-width="1.1"/>
<text x="870.0" y="1246.0" font-size="16" text-anchor="middle" font-weight="bold" textLength="125.0" lengthAdjust="spacingAndGlyphs">CIE 13.3-1995</text>
<text x="870.0" y="1276.5" font-size="16" text-anchor="middle" font-weight="bold" textLength="41.0" lengthAdjust="spacingAndGlyphs">(CRI)</text>
<text x="841.7" y="1306" font-size="16" font-weight="bold">R<tspan font-size="11.5" dx="0.5" dy="6.5">a</tspan></text>
<text x="879.0" y="1306.0" font-size="16" text-anchor="start" font-weight="bold" textLength="21.0" lengthAdjust="spacingAndGlyphs">70</text>
<text x="835.4" y="1336" font-size="16" font-weight="bold">R<tspan font-size="11.5" dx="0.5" dy="6.5">9</tspan></text>
<text x="873.8" y="1336.0" font-size="16" text-anchor="start" font-weight="bold" textLength="32.0" lengthAdjust="spacingAndGlyphs">−45</text>
<text x="600.8" y="1450.0" font-size="16" text-anchor="middle" font-weight="bold" textLength="426.0" lengthAdjust="spacingAndGlyphs">Colors are for visual orientation purposes only.</text>
<!-- logo -->
<g>
<polygon points="810.4,374.6 909.3,402.9 902.6,461.6 810.4,488.7 719.6,461.6 712.9,402.9" fill="#f3eedb" stroke="#f3eedb" stroke-width="3" stroke-linejoin="round"/>
<polygon points="810.4,377.2 907.2,405.0 900.8,460.0 810.4,486.2 721.4,460.0 715.0,405.0" fill="#51677b" stroke="#51677b" stroke-width="3" stroke-linejoin="round"/>
<polygon points="795.0,383.0 825.7,383.0 825.7,388.0 818.2,388.0 826.3,402.7 794.3,402.7 802.5,388.0 795.0,388.0" fill="#f08e52"/>
<polygon points="810.3,390.9 815.8,397.4 805.8,397.4" fill="#51677b"/>
<polygon points="800.2,406.3 803.5,406.3 798.7,414.0 787.0,414.0" fill="#f8c95c"/>
<polygon points="808.6,406.3 811.6,406.3 813.3,414.0 807.0,414.0" fill="#f8c95c"/>
<polygon points="816.7,406.3 820.0,406.3 833.0,414.0 821.3,414.0" fill="#f8c95c"/>
<polygon points="722.5,447.1 764.2,447.1 748.8,464.3 723.9,456.9" fill="#f8c95c"/>
<polygon points="795.1,447.1 825.4,447.1 833.6,477.4 810.9,483.5 787.3,477.4" fill="#f8c95c"/>
<polygon points="859.0,447.1 900.1,447.1 898.9,456.9 873.9,464.3" fill="#f8c95c"/>
<text x="721.6" y="442.9" font-size="33.5" font-weight="bold" fill="#f08e52" stroke="#f08e52" stroke-width="2.0" stroke-linejoin="round" textLength="170.7" lengthAdjust="spacingAndGlyphs">ZEROAIR</text>
<text x="901.2" y="443.3" font-size="9.6" font-weight="bold" fill="#f08e52" stroke="#f08e52" stroke-width="0.4" textLength="23.7" lengthAdjust="spacingAndGlyphs" transform="rotate(-90 901.2 443.3)">ORG</text>
<line x1="711.50" y1="416.50" x2="908.00" y2="416.50" stroke="rgba(0,0,0,0.6)" stroke-width="1.1"/>
<line x1="717.00" y1="457.50" x2="903.00" y2="457.50" stroke="rgba(0,0,0,0.6)" stroke-width="1.1"/>
</g>
</svg>
</div>
</body></html>
